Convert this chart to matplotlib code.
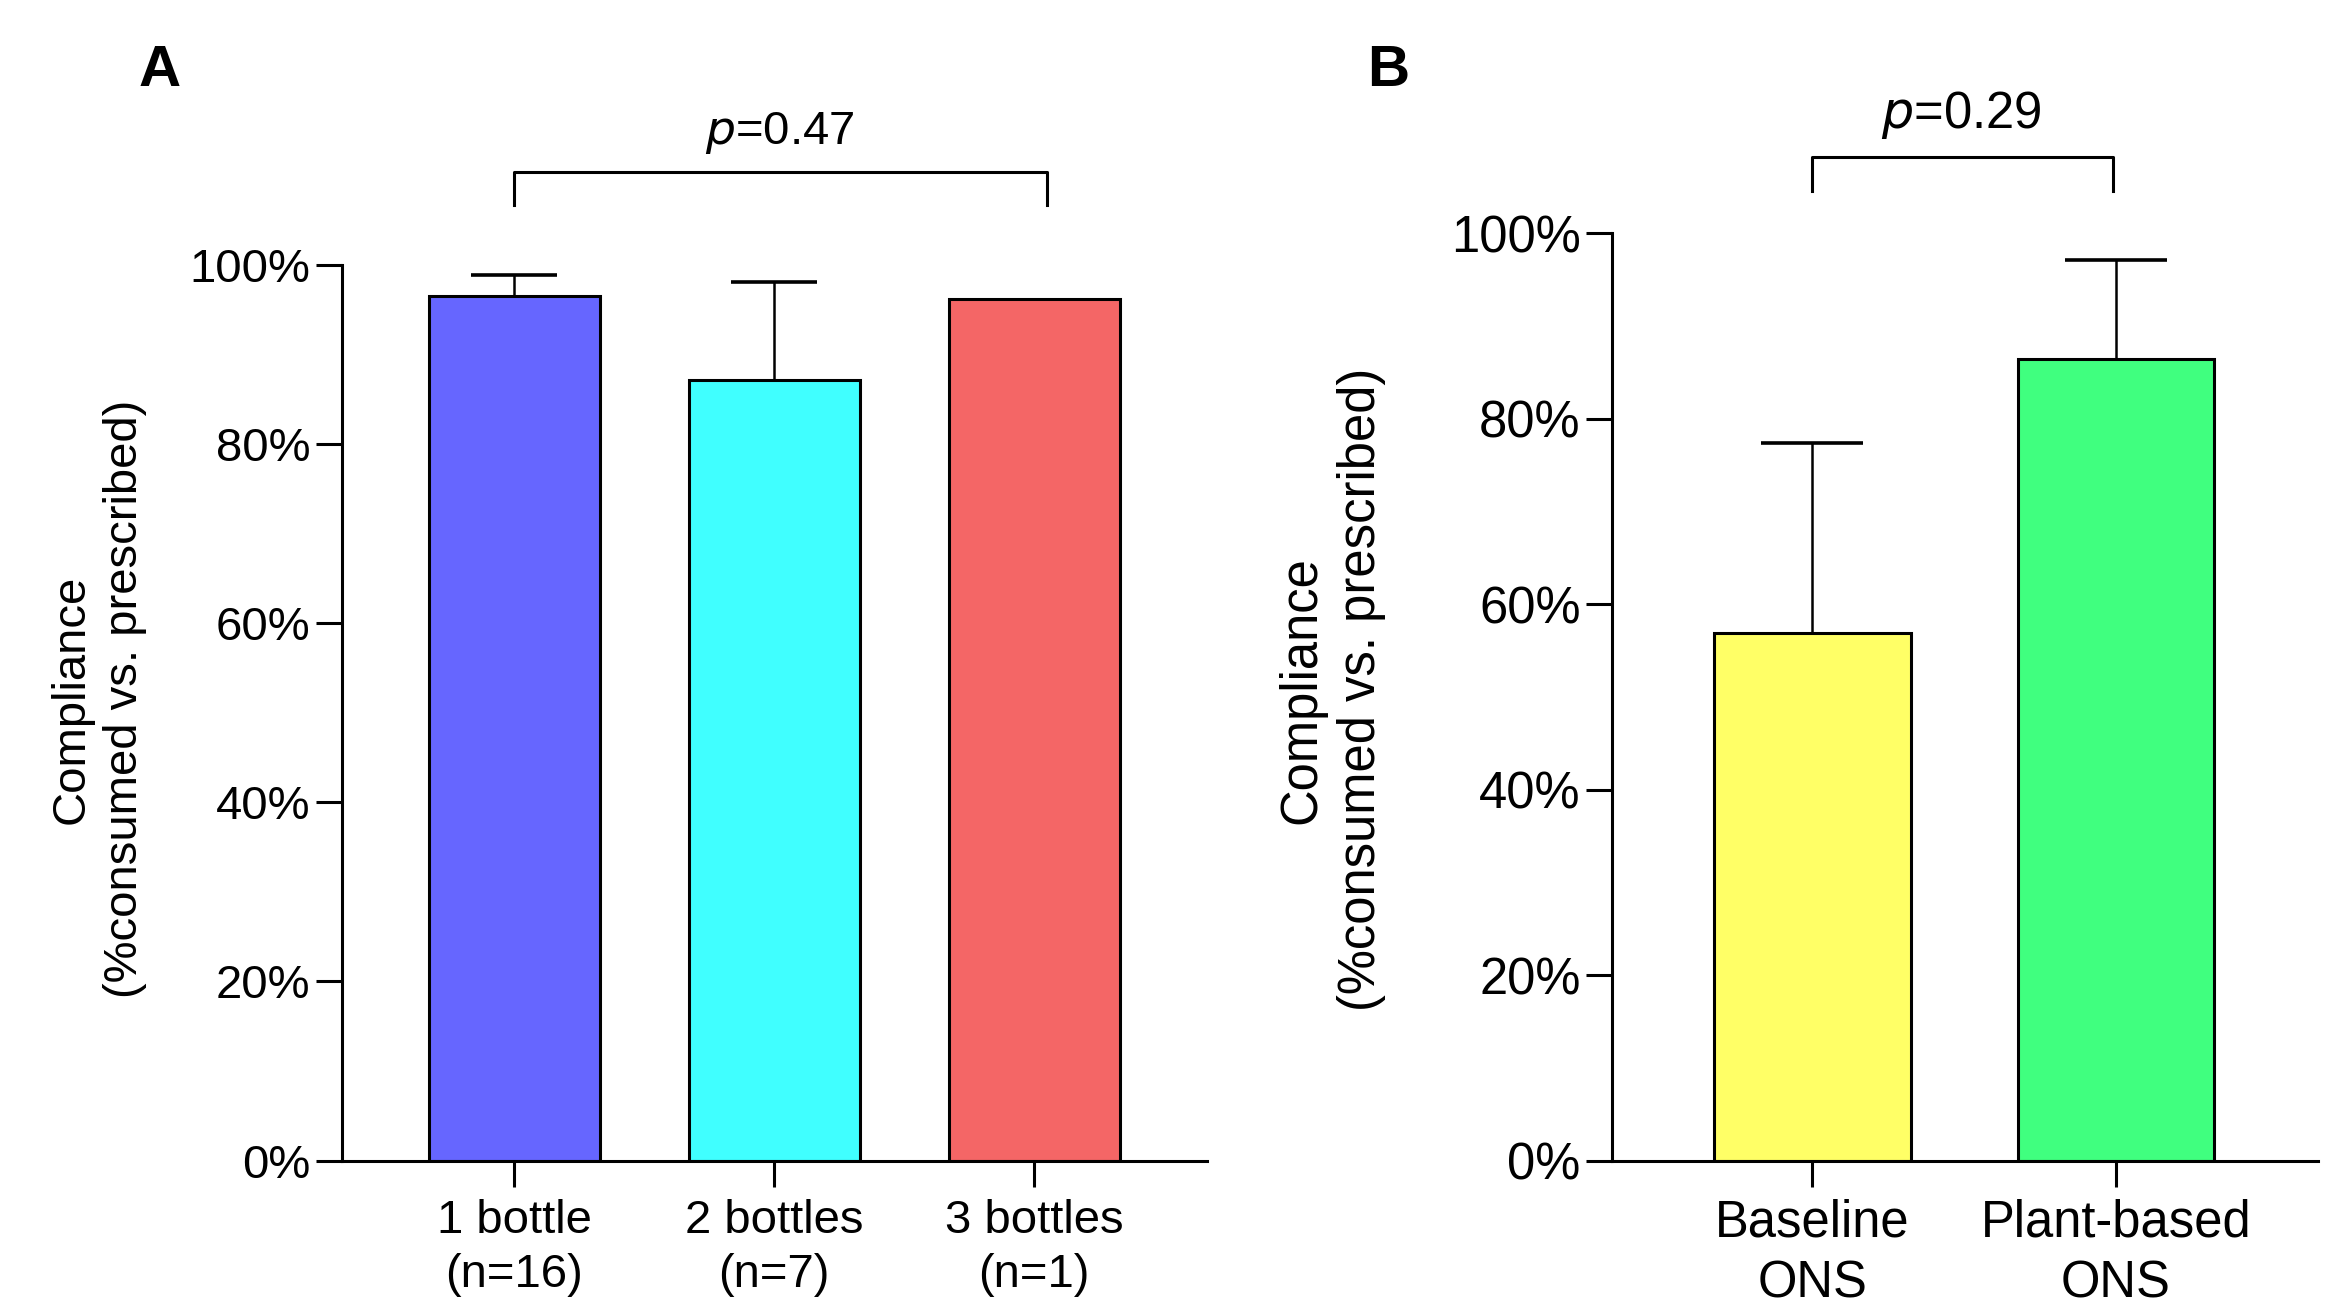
import numpy as np
import matplotlib
matplotlib.use('Agg')
import matplotlib.pyplot as plt

plt.rcParams['font.family'] = ['Liberation Sans', 'DejaVu Sans']

# %% data
cats_a = ['1 bottle\n(n=16)', '2 bottles\n(n=7)', '3 bottles\n(n=1)']
means_a = [96.5, 87.1, 96.2]
err_up_a = [2.3, 10.9, 0.0]
colors_a = ['#6666FF', '#40FFFF', '#F46666']
p_a = 'p=0.47'

cats_b = ['Baseline\nONS', 'Plant-based\nONS']
means_b = [56.9, 86.4]
err_up_b = [20.5, 10.7]
colors_b = ['#FFFF66', '#40FF7F']
p_b = 'p=0.29'

yticks = [0, 20, 40, 60, 80, 100]
ylab = 'Compliance\n(%consumed vs. prescribed)'


def panel(ax, cats, means, errs, colors, fs, width, capsize, xlim,
          bracket, label_x, label_y):
    x = np.arange(len(cats))
    ax.bar(x, means, width=width, color=colors, edgecolor='black',
           linewidth=2.2, zorder=2)
    has_err = np.array(errs) > 0
    _, caps, _ = ax.errorbar(x[has_err], np.array(means)[has_err],
                             yerr=[np.zeros(has_err.sum()), np.array(errs)[has_err]],
                             fmt='none', ecolor='black', elinewidth=1.8,
                             capsize=capsize, capthick=2.6, zorder=1)
    caps[0].set_visible(False)  # only upper caps
    ax.set_xlim(*xlim)
    ax.set_ylim(0, 100)
    ax.set_yticks(yticks)
    ax.set_yticklabels([f'{t}%' for t in yticks])
    ax.set_xticks(x)
    ax.set_xticklabels(cats, linespacing=1.3)
    for s in ['top', 'right']:
        ax.spines[s].set_visible(False)
    for s in ['left', 'bottom']:
        ax.spines[s].set_linewidth(2.2)
    ax.tick_params(axis='y', length=19, width=2.2, labelsize=fs, pad=3.5)
    ax.tick_params(axis='x', length=19, width=2.2, labelsize=fs, pad=8.5)
    ax.set_ylabel(ylab, fontsize=fs, linespacing=1.28)
    ax.yaxis.set_label_coords(label_x, label_y)
    # significance bracket
    x0, x1, ylo, yhi, ptxt, px, py = bracket
    ax.plot([x0, x0, x1, x1], [ylo, yhi, yhi, ylo], color='black',
            linewidth=2.2, clip_on=False)
    ax.text(px, py, r'$\it{p}$' + ptxt[1:], ha='center', va='baseline',
            fontsize=fs)


fig = plt.figure(figsize=(23.30, 12.98), dpi=100)
ax_a = fig.add_axes([0.1467, 0.1058, 0.3712, 0.6904])
ax_b = fig.add_axes([0.6918, 0.1058, 0.3030, 0.7144])

panel(ax_a, cats_a, means_a, err_up_a, colors_a, 34, 0.657, 31,
      (-0.663, 2.663), (0, 2.05, 106.6, 110.3, p_a, 1.02, 113.4),
      -0.225, 0.515)
panel(ax_b, cats_b, means_b, err_up_b, colors_b, 36.5, 0.647, 37,
      (-0.661, 1.666), (0, 0.99, 104.6, 108.2, p_b, 0.49, 111.4),
      -0.32, 0.508)

fig.text(0.0593, 0.9337, 'A', fontsize=42, fontweight='bold', va='baseline')
fig.text(0.5868, 0.9337, 'B', fontsize=42, fontweight='bold', va='baseline')

fig.savefig('out.png', dpi=100)
